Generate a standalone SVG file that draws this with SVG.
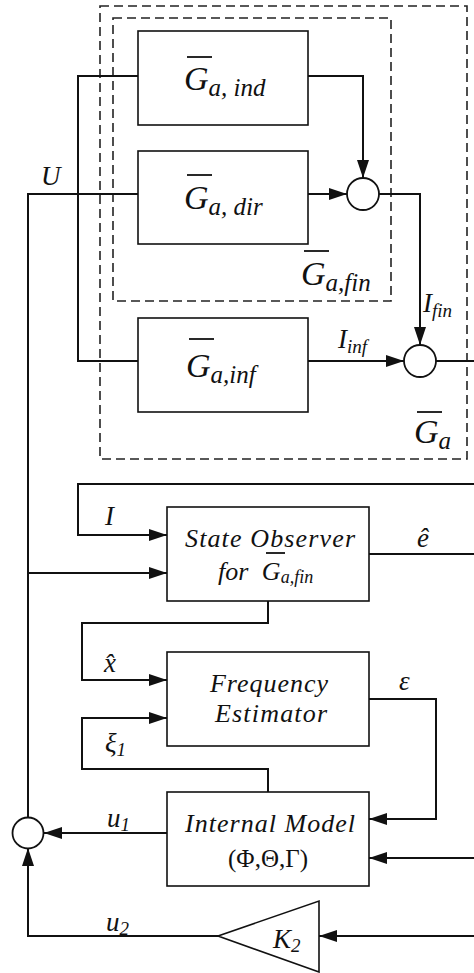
<svg xmlns="http://www.w3.org/2000/svg" width="474" height="973" viewBox="0 0 474 973">
<defs>
<style>
.box{fill:#fff;stroke:#111;stroke-width:1.6}
.dash{fill:none;stroke:#222;stroke-width:1.6;stroke-dasharray:9 5}
.wire{fill:none;stroke:#111;stroke-width:2}
.arr{fill:none;stroke:#111;stroke-width:2;marker-end:url(#ah)}
.sum{fill:#fff;stroke:#111;stroke-width:1.8}
.bar{stroke:#111;stroke-width:1.8}
.m{font-family:"Liberation Serif","DejaVu Serif",serif;font-style:italic;fill:#111}
.r{font-family:"Liberation Serif","DejaVu Serif",serif;fill:#111}
</style>
<marker id="ah" markerUnits="userSpaceOnUse" markerWidth="18" markerHeight="12" refX="18" refY="6" orient="auto">
<path d="M0,0 L18,6 L0,12 z" fill="#111"/>
</marker>
</defs>
<rect width="474" height="973" fill="#fff"/>

<g id="group-g-a">
<rect class="dash" x="100" y="6" width="367" height="453"/>
<line class="bar" x1="417" y1="412" x2="442" y2="412"/>
<text class="m" x="414" y="443" font-size="34">G<tspan font-size="25" dy="6">a</tspan></text>
</g>
<g id="group-g-fin">
<rect class="dash" x="113" y="18" width="278" height="283"/>
<line class="bar" x1="304" y1="251" x2="329" y2="251"/>
<text class="m" x="301" y="285" font-size="34">G<tspan font-size="25" dy="6">a,fin</tspan></text>
</g>

<g id="connectors">
<path class="wire" d="M138,76 H78 V361 H138"/>
<path class="wire" d="M28,817 V194 H138"/>
<path class="arr" d="M308,76 H363 V178"/>
<path class="arr" d="M308,194 H347"/>
<path class="arr" d="M379,194 H420 V345"/>
<path class="arr" d="M308,361 H404"/>
<path class="wire" d="M436,361 H474"/>
<path class="arr" d="M474,484 H78 V535 H167"/>
<path class="arr" d="M28,573 H167"/>
<path class="wire" d="M369,554 H474"/>
<path class="arr" d="M268,601 V623 H82 V680 H167"/>
<path class="arr" d="M268,792 V769 H82 V718 H167"/>
<path class="arr" d="M369,699 H436 V819 H369"/>
<path class="arr" d="M474,858 H369"/>
<path class="arr" d="M167,833 H44"/>
<path class="arr" d="M474,936 H319"/>
<path class="arr" d="M218,936 H28 V848"/>
</g>

<g id="connector-labels">
<text class="m" x="41" y="185" font-size="27">U</text>
<text class="m" x="423" y="312" font-size="27">I<tspan font-size="19" dy="5">fin</tspan></text>
<text class="m" x="338" y="348" font-size="27">I<tspan font-size="19" dy="5">inf</tspan></text>
<text class="m" x="105" y="525" font-size="27">I</text>
<text class="m" x="417" y="547" font-size="27">ê</text>
<text class="m" x="104" y="672" font-size="27">x̂</text>
<text class="m" x="399" y="690" font-size="27">ε</text>
<text class="m" x="105" y="752" font-size="27">ξ<tspan font-size="19" dy="4">1</tspan></text>
<text class="m" x="107" y="827" font-size="27">u<tspan font-size="19" dy="4">1</tspan></text>
<text class="m" x="106" y="931" font-size="27">u<tspan font-size="19" dy="4">2</tspan></text>
</g>

<g id="box-g-ind">
<rect class="box" x="138" y="31" width="170" height="94"/>
<line class="bar" x1="187" y1="57" x2="212" y2="57"/>
<text class="m" x="184" y="90" font-size="34">G<tspan font-size="25" dy="6">a, ind</tspan></text>
</g>
<g id="box-g-dir">
<rect class="box" x="138" y="151" width="170" height="93"/>
<line class="bar" x1="187" y1="175" x2="212" y2="175"/>
<text class="m" x="184" y="209" font-size="34">G<tspan font-size="25" dy="6">a, dir</tspan></text>
</g>
<g id="box-g-inf">
<rect class="box" x="138" y="318" width="170" height="94"/>
<line class="bar" x1="189" y1="339" x2="214" y2="339"/>
<text class="m" x="186" y="377" font-size="34">G<tspan font-size="25" dy="6">a,inf</tspan></text>
</g>

<g id="sum-fin"><circle class="sum" cx="363" cy="194" r="16"/></g>
<g id="sum-total"><circle class="sum" cx="420" cy="361" r="16"/></g>
<g id="sum-u"><circle class="sum" cx="28" cy="833" r="15.5"/></g>

<g id="state-observer">
<rect class="box" x="167" y="507" width="202" height="94"/>
<text class="m" x="185" y="547" font-size="26" textLength="170" lengthAdjust="spacing">State Observer</text>
<line class="bar" x1="266" y1="553" x2="285" y2="553"/>
<text class="m" x="218" y="580" font-size="26">for <tspan dx="7">G</tspan><tspan font-size="18" dy="3">a,fin</tspan></text>
</g>

<g id="frequency-estimator">
<rect class="box" x="167" y="652" width="202" height="94"/>
<text class="m" x="210" y="692" font-size="26" textLength="118" lengthAdjust="spacing">Frequency</text>
<text class="m" x="215" y="722" font-size="26" textLength="112" lengthAdjust="spacing">Estimator</text>
</g>

<g id="internal-model">
<rect class="box" x="167" y="792" width="202" height="94"/>
<text class="m" x="185" y="832" font-size="26" textLength="170" lengthAdjust="spacing">Internal Model</text>
<text class="r" x="268" y="867" font-size="25" text-anchor="middle">(Φ,Θ,Γ)</text>
</g>

<g id="gain-k2">
<polygon class="box" points="319,901 319,972 218,936"/>
<text class="m" x="273" y="948" font-size="27">K<tspan font-size="19" dy="4">2</tspan></text>
</g>
</svg>
